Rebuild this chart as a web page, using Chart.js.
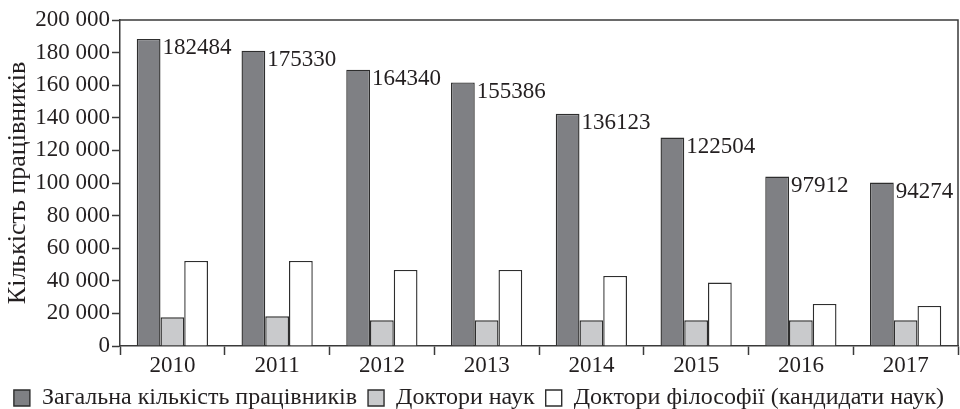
<!DOCTYPE html>
<html>
<head>
<meta charset="utf-8">
<script src="https://cdn.jsdelivr.net/npm/chart.js@4.4.0/dist/chart.umd.min.js"></script>
<style>
    html, body { margin: 0; padding: 0; background: #fff; }
    #wrap { width: 960px; height: 409px; }
</style>
</head>
<body>
<div id="wrap"><canvas id="staffChart"></canvas></div>
<script>
// Data
var years = ['2010', '2011', '2012', '2013', '2014', '2015', '2016', '2017'];
var totalStaff = [188400, 181200, 169500, 161700, 142500, 127900, 104000, 100300];
var totalLabels = ['182484', '175330', '164340', '155386', '136123', '122504', '97912', '94274'];
var doctors = [17600, 18200, 15800, 15800, 15800, 15800, 15800, 15800];
var phds = [52200, 52200, 46700, 46700, 43000, 38900, 25800, 24600];
var yTicks = [0, 20000, 40000, 60000, 80000, 100000, 120000, 140000, 160000, 180000, 200000];

var seriesNames = ['Загальна кількість працівників', 'Доктори наук', 'Доктори філософії (кандидати наук)'];

var ink = '#231f20';
var serif = '"Liberation Serif", "DejaVu Serif", serif';

function spaced(v) {
    return String(v).replace(/\B(?=(\d{3})+(?!\d))/g, ' ');
}

// Numbers next to the dark bars + top/right frame
var extras = {
    id: 'extras',
    afterDatasetsDraw: function(chart) {
        var ctx = chart.ctx;
        var meta = chart.getDatasetMeta(0);
        ctx.save();
        ctx.fillStyle = ink;
        ctx.font = '23px ' + serif;
        ctx.textAlign = 'left';
        ctx.textBaseline = 'top';
        meta.data.forEach(function(bar, i) {
            ctx.fillText(totalLabels[i], bar.x + bar.width / 2 + 2, bar.y - 2);
        });
        var a = chart.chartArea;
        ctx.strokeStyle = '#3a3a3a';
        ctx.lineWidth = 1.5;
        ctx.beginPath();
        ctx.moveTo(a.left, a.top);
        ctx.lineTo(a.right, a.top);
        ctx.lineTo(a.right, a.bottom);
        ctx.stroke();
        ctx.restore();
    }
};

var staffCtx = document.getElementById('staffChart').getContext('2d');
var staffChart = new Chart(staffCtx, {
    type: 'bar',
    data: {
        labels: years,
        datasets: [{
            label: seriesNames[0],
            data: totalStaff,
            backgroundColor: '#7f8084',
            borderColor: '#2e2e2e',
            borderWidth: 1.4
        }, {
            label: seriesNames[1],
            data: doctors,
            backgroundColor: '#c9cacc',
            borderColor: '#2e2e2e',
            borderWidth: 1.4
        }, {
            label: seriesNames[2],
            data: phds,
            backgroundColor: '#ffffff',
            borderColor: '#2e2e2e',
            borderWidth: 1.4
        }]
    },
    options: {
        responsive: true,
        maintainAspectRatio: false,
        animation: false,
        layout: { padding: { top: 20, right: 2, left: 0, bottom: -11 } },
        datasets: {
            bar: { categoryPercentage: 0.68, barPercentage: 1.0 }
        },
        plugins: {
            tooltip: { enabled: false },
            legend: {
                position: 'bottom',
                labels: {
                    color: ink,
                    font: { family: serif, size: 24 },
                    boxWidth: 16,
                    boxHeight: 16,
                    padding: 11
                }
            }
        },
        scales: {
            x: {
                grid: {
                    offset: true,
                    drawOnChartArea: false,
                    tickLength: 9,
                    tickColor: '#3a3a3a',
                    tickWidth: 1.5
                },
                border: { color: '#3a3a3a', width: 1.5 },
                ticks: {
                    color: ink,
                    font: { family: serif, size: 23 },
                    padding: -3
                },
                afterFit: function(scale) { scale.height = 29; }
            },
            y: {
                min: 0,
                max: 200000,
                afterBuildTicks: function(scale) {
                    scale.ticks = yTicks.map(function(v) { return { value: v }; });
                },
                grid: {
                    drawOnChartArea: false,
                    tickLength: 8,
                    tickColor: '#3a3a3a',
                    tickWidth: 1.5
                },
                border: { color: '#3a3a3a', width: 1.5 },
                ticks: {
                    autoSkip: false,
                    color: ink,
                    font: { family: serif, size: 23 },
                    padding: 2,
                    callback: function(v) { return spaced(v); }
                },
                title: {
                    display: true,
                    text: 'Кількість працівників',
                    color: ink,
                    font: { family: serif, size: 26 },
                    padding: { top: 3, bottom: 2 }
                },
                afterFit: function(scale) { scale.width = 120; }
            }
        }
    },
    plugins: [extras]
});
</script>
</body>
</html>
